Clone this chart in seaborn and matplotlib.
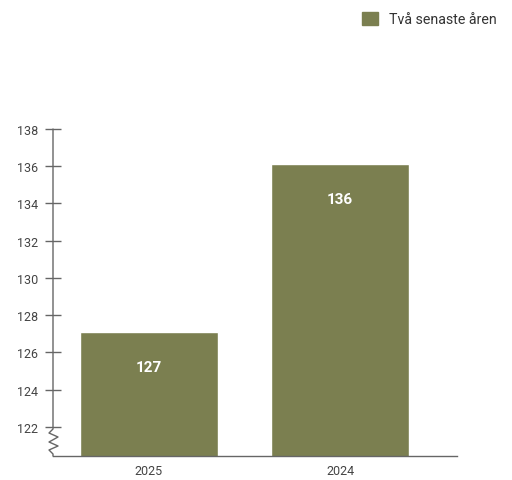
import matplotlib
matplotlib.use("Agg")
import matplotlib.pyplot as plt
import seaborn as sns
import pandas as pd
from matplotlib.patches import Patch

years = ["2025", "2024"]
values = [127.1, 136.1]
labels = ["127", "136"]
series_name = "Två senaste åren"
y_ticks = [122, 124, 126, 128, 130, 132, 134, 136, 138]

bar_color = "#7b7f50"
axis_color = "#666666"
text_color = "#444444"

sns.set_style("white")
plt.rcParams["font.family"] = ["Roboto", "DejaVu Sans"]

df = pd.DataFrame({"year": years, "value": values})

fig = plt.figure(figsize=(5.12, 4.81), dpi=100)
ax = fig.add_axes([53 / 512, 24 / 481, 404 / 512, 327 / 481])

sns.barplot(data=df, x="year", y="value", color=bar_color, saturation=1,
            width=0.72, ax=ax)

ax.set_ylim(120.44, 138)
ax.set_xlim(-0.5, 1.61)
ax.set_xlabel("")
ax.set_ylabel("")
ax.set_yticks(y_ticks)
ax.tick_params(axis="y", left=True, direction="inout", length=11, width=1,
               color=axis_color, labelsize=9, labelcolor=text_color, pad=5)
ax.tick_params(axis="x", bottom=False, length=0, labelsize=9,
               labelcolor=text_color, pad=6)

for s in ["top", "right", "left"]:
    ax.spines[s].set_visible(False)
ax.spines["bottom"].set_color(axis_color)
ax.spines["bottom"].set_linewidth(1)

# left axis line with zigzag break near the bottom
w, h = 404.0, 327.0
px = [0, 0, -4, 5, -4, 5, -4, 0, 0]
py = [327, 27, 23, 19, 14, 10, 6, 2, 0]
ax.plot([p / w for p in px], [p / h for p in py], transform=ax.transAxes,
        color=axis_color, lw=1, clip_on=False)

for i, (v, lab) in enumerate(zip(values, labels)):
    ax.annotate(lab, xy=(i, v), xytext=(0, -25), textcoords="offset points",
                ha="center", va="center", color="white", fontsize=11,
                fontweight="bold")

fig.legend(handles=[Patch(color=bar_color, label=series_name)],
           loc="upper right", bbox_to_anchor=(0.995, 1.0), frameon=False,
           fontsize=10.2, handlelength=1.1, handleheight=1.1,
           handletextpad=0.8, labelcolor="#333333")

fig.savefig("out.png", dpi=100)
